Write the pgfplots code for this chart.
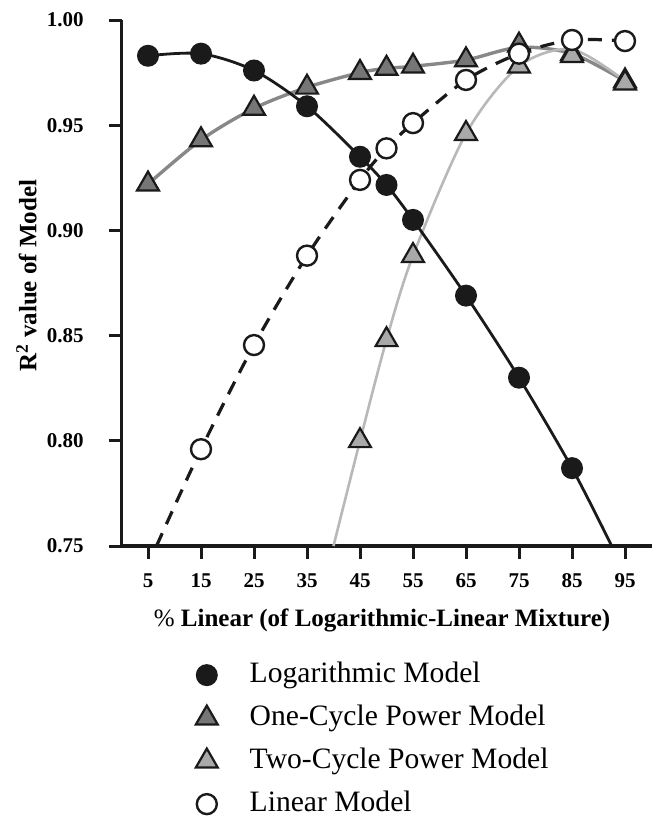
\documentclass[border=0pt]{standalone}
\usepackage{fontspec}
\setmainfont{Liberation Serif}
\usepackage{pgfplots}
\pgfplotsset{compat=1.18}
\definecolor{ink}{HTML}{1A1A1A}
\definecolor{onefill}{HTML}{767676}
\definecolor{twofill}{HTML}{A9A9A9}
\definecolor{oneline}{HTML}{888888}
\definecolor{twoline}{HTML}{B8B8B8}
\begin{document}
\begin{tikzpicture}
\useasboundingbox (0,0) rectangle (326pt,-408.5pt);
\begin{axis}[
  at={(60.75pt,-273pt)}, anchor=south west,
  scale only axis, width=265pt, height=263pt,
  xmin=0, xmax=100, ymin=0.75, ymax=1.0,
  axis x line*=bottom, axis y line*=left,
  axis line style={line width=1.6pt, ink},
  xtick={5,15,25,35,45,55,65,75,85,95},
  ytick={0.75,0.80,0.85,0.90,0.95,1.00},
  tick align=outside, major tick length=6.5pt,
  tick style={line width=1.5pt, ink},
  /pgf/number format/assume math mode=true,
  ticklabel style={font=\fontsize{10.5}{12}\selectfont\bfseries, inner sep=0pt},
  xticklabel style={anchor=base, yshift=-14.3pt},
  yticklabel style={anchor=east, xshift=-12.25pt, /pgf/number format/.cd, fixed, fixed zerofill, precision=2},
  xlabel={{\mdseries\%} Linear (of Logarithmic-Linear Mixture)},
  xlabel style={font=\fontsize{12.5}{14}\selectfont\bfseries, at={(axis description cs:0.4915,-0.1535)}, anchor=base, inner sep=0pt},
  ylabel={R\textsuperscript{2} value of Model},
  ylabel style={font=\fontsize{12.5}{14}\selectfont\bfseries, at={(axis description cs:-0.1604,0.5137)}, anchor=base, inner sep=0pt},
  legend style={draw=none, fill=none, at={(axis description cs:0.1396,-0.22)}, anchor=north west,
    font=\fontsize{14.8}{16}\selectfont, inner sep=0pt, row sep=8.5pt,
    nodes={inner sep=0pt, text height=10pt, text depth=3pt},
    /tikz/every odd column/.append style={column sep=16pt}},
  legend cell align=left,
  legend image code/.code={\draw[#1] plot coordinates {(0pt,0pt)};},
  clip=true,
]
% fitted lines
\addplot[forget plot, oneline, line width=1.7pt, smooth] coordinates {
 (5,0.922) (15,0.943) (25,0.958) (35,0.968) (45,0.975) (50,0.977) (55,0.978) (65,0.981) (75,0.987) (85,0.984) (95,0.971)};
\addplot[forget plot, twoline, line width=1.3pt, smooth] coordinates {
 (40,0.75) (45,0.800) (50,0.848) (55,0.888) (65,0.946) (75,0.978) (85,0.986) (95,0.971)};
\addplot[forget plot, ink, line width=1.4pt, smooth] coordinates {
 (5,0.983) (15,0.984) (25,0.976) (35,0.959) (45,0.935) (50,0.9216) (55,0.905) (65,0.869) (75,0.830) (85,0.787) (92.5,0.75)};
\addplot[forget plot, ink, line width=1.6pt, dash pattern=on 7pt off 5pt, smooth] coordinates {
 (6.6,0.75) (15,0.796) (25,0.8455) (35,0.888) (45,0.924) (50,0.939) (55,0.951) (65,0.9715) (75,0.984) (85,0.9905) (95,0.990)};
% markers
\addplot[only marks, mark=*, mark size=5pt, mark options={draw=ink, fill=ink, line width=1pt}] coordinates {
 (5,0.983) (15,0.984) (25,0.976) (35,0.959) (45,0.935) (50,0.9216) (55,0.905) (65,0.869) (75,0.830) (85,0.787)};
\addlegendentry{Logarithmic Model}
\addplot[only marks, mark=triangle*, mark size=6.3pt, mark options={draw=ink, fill=onefill, line width=1.1pt}] coordinates {
 (5,0.922) (15,0.943) (25,0.958) (35,0.968) (45,0.975) (50,0.977) (55,0.978) (65,0.981) (75,0.988) (85,0.984) (95,0.971)};
\addlegendentry{One-Cycle Power Model}
\addplot[only marks, mark=triangle*, mark size=6.3pt, mark options={draw=ink, fill=twofill, line width=1.1pt}] coordinates {
 (45,0.800) (50,0.848) (55,0.888) (65,0.946) (75,0.978) (85,0.983) (95,0.970)};
\addlegendentry{Two-Cycle Power Model}
\addplot[only marks, mark=*, mark size=5pt, mark options={draw=ink, fill=white, line width=1.2pt}] coordinates {
 (15,0.796) (25,0.8455) (35,0.888) (45,0.924) (50,0.939) (55,0.951) (65,0.9715) (75,0.984) (85,0.9905) (95,0.990)};
\addlegendentry{Linear Model}
\end{axis}
\end{tikzpicture}
\end{document}
